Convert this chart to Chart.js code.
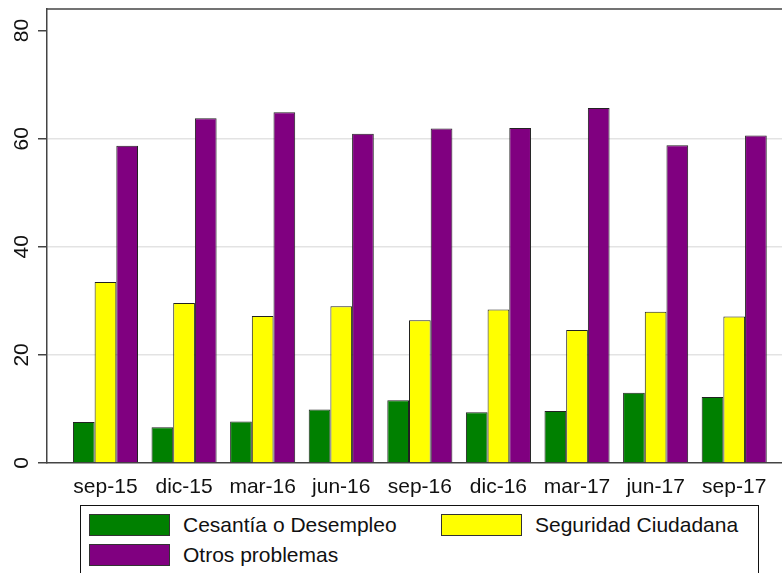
<!DOCTYPE html>
<html>
<head>
<meta charset="utf-8">
<script src="https://cdn.jsdelivr.net/npm/chart.js@4/dist/chart.umd.min.js"></script>
<style>
  html, body { margin: 0; padding: 0; background: #fff; }
  #wrap { position: relative; width: 782px; height: 573px; overflow: hidden; }
  #c { position: absolute; left: 0; top: 0; }
  #legend {
    position: absolute; left: 80px; top: 505px; width: 679px; height: 100px;
    border: 1px solid #111; box-sizing: border-box; background: #fff;
    padding: 8px 0 0 8px;
    display: grid; grid-template-columns: 352px auto; row-gap: 8px;
    align-content: start;
    font-family: "Liberation Sans", Arial, sans-serif; font-size: 21px; color: #111;
  }
  .item { display: flex; align-items: center; height: 22px; white-space: nowrap; }
  .sw { width: 81px; height: 22px; box-sizing: border-box; border: 1px solid #333; margin-right: 13px; flex: none; }
</style>
</head>
<body>
<div id="wrap">
  <canvas id="c" width="782" height="573"></canvas>
  <div id="legend"></div>
</div>
<script>
const categories = ["sep-15","dic-15","mar-16","jun-16","sep-16","dic-16","mar-17","jun-17","sep-17"];
const cesantia  = [7.6, 6.6, 7.7, 9.9, 11.6, 9.4, 9.6, 13.0, 12.2];
const seguridad = [33.5, 29.6, 27.2, 29.0, 26.4, 28.4, 24.6, 28.0, 27.1];
const otros     = [58.7, 63.8, 64.9, 60.9, 61.9, 62.0, 65.7, 58.8, 60.6];
const seriesNames  = ["Cesantía o Desempleo", "Seguridad Ciudadana", "Otros problemas"];
const seriesColors = ["#008000", "#ffff00", "#800080"];
const seriesValues = [cesantia, seguridad, otros];
const yTicks = [0, 20, 40, 60, 80];
const gridValues = [20, 40, 60];

const FONT = '"Liberation Sans", Arial, sans-serif';

const datasets = seriesValues.map((vals, k) => ({
  label: seriesNames[k],
  data: vals.map((v, i) => ({ x: i, y: v })),
  backgroundColor: seriesColors[k],
  borderColor: '#222',
  borderWidth: 1,
  borderSkipped: 'bottom',
  barPercentage: 1.0,
  categoryPercentage: 0.828
}));

const framePlugin = {
  id: 'frame',
  afterDraw(chart) {
    const { ctx, chartArea } = chart;
    ctx.save();
    ctx.strokeStyle = '#444';
    ctx.lineWidth = 1.5;
    ctx.beginPath();
    ctx.moveTo(chartArea.left, chartArea.top);
    ctx.lineTo(chartArea.right, chartArea.top);
    ctx.stroke();
    const ys = chart.scales.y;
    ctx.fillStyle = '#111';
    ctx.font = '21px ' + FONT;
    ctx.textAlign = 'center';
    ctx.textBaseline = 'alphabetic';
    ys.ticks.forEach(t => {
      if (!yTicks.includes(t.value)) return;
      const py = ys.getPixelForValue(t.value);
      ctx.save();
      ctx.translate(28, py);
      ctx.rotate(-Math.PI / 2);
      ctx.fillText(String(t.value), 0, 0);
      ctx.restore();
    });
    ctx.restore();
  }
};

new Chart(document.getElementById('c'), {
  type: 'bar',
  data: { datasets },
  plugins: [framePlugin],
  options: {
    responsive: false,
    animation: false,
    layout: { padding: { top: 9, left: 0, right: 0, bottom: 0 } },
    plugins: { legend: { display: false }, tooltip: { enabled: false } },
    scales: {
      x: {
        type: 'linear',
        offset: false,
        min: -0.744,
        max: 8.608,
        afterFit(scale) { scale.height = 110; },
        grid: { display: false, drawTicks: false, offset: false },
        border: { display: true, color: '#444', width: 1.5 },
        ticks: {
          stepSize: 1,
          includeBounds: false,
          autoSkip: false,
          maxRotation: 0,
          padding: 12,
          color: '#111',
          font: { family: FONT, size: 21 },
          callback: (v) => (Number.isInteger(v) && categories[v] !== undefined) ? categories[v] : ''
        }
      },
      y: {
        min: 0,
        max: 84,
        afterFit(scale) { scale.width = 47; },
        grid: {
          color: (c) => (c.tick && gridValues.includes(c.tick.value)) ? '#e3e3e3' : 'rgba(0,0,0,0)',
          lineWidth: 1.5,
          tickColor: (c) => (c.tick && yTicks.includes(c.tick.value)) ? '#444' : 'rgba(0,0,0,0)',
          tickLength: 9,
          drawTicks: true
        },
        border: { display: true, color: '#444', width: 1.5 },
        ticks: {
          stepSize: 20,
          includeBounds: false,
          display: false
        }
      }
    }
  }
});

const legend = document.getElementById('legend');
[0, 1, 2].forEach(k => {
  const it = document.createElement('div');
  it.className = 'item';
  const sw = document.createElement('span');
  sw.className = 'sw';
  sw.style.background = seriesColors[k];
  const tx = document.createElement('span');
  tx.textContent = seriesNames[k];
  it.appendChild(sw);
  it.appendChild(tx);
  legend.appendChild(it);
});
</script>
</body>
</html>
